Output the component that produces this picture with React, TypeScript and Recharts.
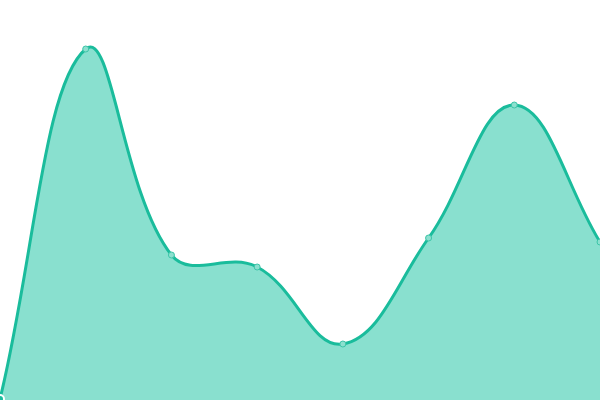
import * as React from "react";
import { AreaChart, Area, XAxis, YAxis } from "recharts";

const labels = ["A", "B", "C", "D", "E", "F", "G", "H"];
const values = [1, 351, 145, 133, 56, 162, 295, 158];

const data = labels.map((name, i) => ({ name, value: values[i] }));

// spline like the one the reference uses (distance weighted, tension 0.4)
function splineCurve(tension: number) {
  return (context: any) => {
    let pts: [number, number][] = [];
    let line = NaN;
    return {
      areaStart() {
        line = 0;
      },
      areaEnd() {
        line = NaN;
      },
      lineStart() {
        pts = [];
      },
      point(x: number, y: number) {
        pts.push([+x, +y]);
      },
      lineEnd() {
        const n = pts.length;
        const cpPrev: [number, number][] = [];
        const cpNext: [number, number][] = [];
        for (let i = 0; i < n; i++) {
          const cur = pts[i];
          const prev = pts[i - 1] || cur;
          const next = pts[i + 1] || cur;
          const d01 = Math.hypot(cur[0] - prev[0], cur[1] - prev[1]);
          const d12 = Math.hypot(next[0] - cur[0], next[1] - cur[1]);
          let s01 = d01 / (d01 + d12);
          let s12 = d12 / (d01 + d12);
          if (isNaN(s01)) s01 = 0;
          if (isNaN(s12)) s12 = 0;
          const fa = tension * s01;
          const fb = tension * s12;
          cpPrev.push([cur[0] - fa * (next[0] - prev[0]), cur[1] - fa * (next[1] - prev[1])]);
          cpNext.push([cur[0] + fb * (next[0] - prev[0]), cur[1] + fb * (next[1] - prev[1])]);
        }
        for (let i = 0; i < n; i++) {
          const [x, y] = pts[i];
          if (i === 0) {
            if (line) context.lineTo(x, y);
            else context.moveTo(x, y);
          } else {
            context.bezierCurveTo(
              cpNext[i - 1][0],
              cpNext[i - 1][1],
              cpPrev[i][0],
              cpPrev[i][1],
              x,
              y,
            );
          }
        }
        if (line || (line !== 0 && n === 1)) context.closePath();
        line = 1 - line;
      },
    };
  };
}

const curve = splineCurve(0.4);

export default function App() {
  return (
    <div style={{ position: "absolute", left: 0, top: 0 }}>
      <AreaChart
        width={600}
        height={400}
        data={data}
        margin={{ top: 0, right: 0, bottom: 0, left: 0 }}
      >
        <XAxis dataKey="name" hide />
        <YAxis domain={[0, 400]} hide />
        <Area
          type={curve as any}
          dataKey="value"
          stroke="#1abc9c"
          strokeWidth={3}
          fill="#89e0cf"
          fillOpacity={1}
          dot={{ r: 3, fill: "#8ce0cf", stroke: "#3cc5a8", strokeWidth: 1 }}
          isAnimationActive={false}
        />
      </AreaChart>
    </div>
  );
}
